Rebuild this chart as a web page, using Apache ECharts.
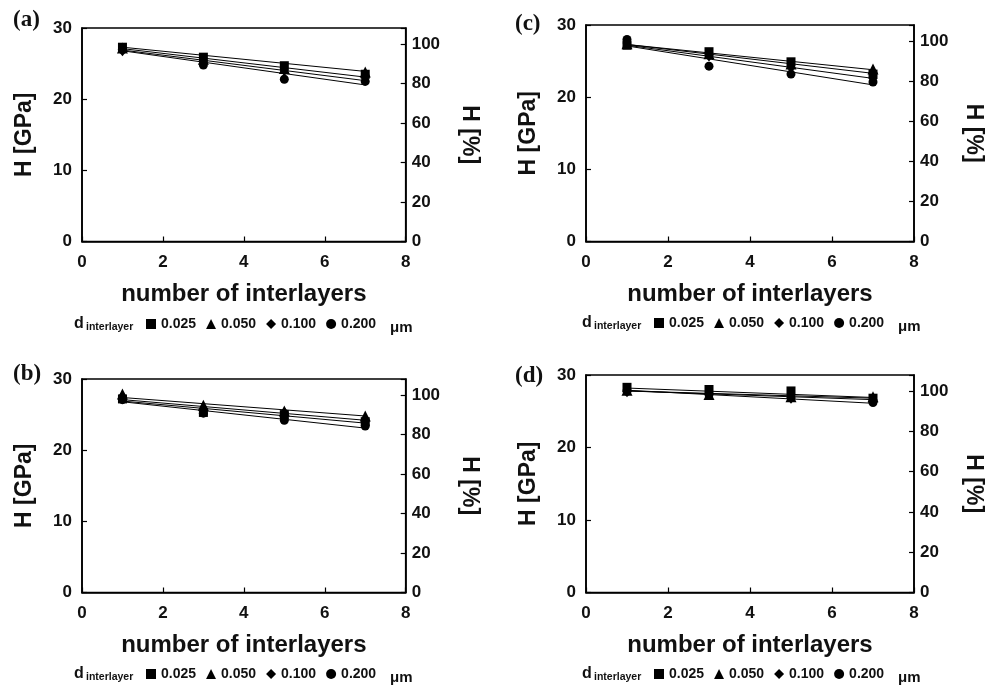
<!DOCTYPE html>
<html><head><meta charset="utf-8">
<script src="https://cdn.jsdelivr.net/npm/echarts@6/dist/echarts.min.js"></script>
<style>html,body{margin:0;padding:0;background:#fff}#c{width:987px;height:688px}</style>
</head><body><div id="c"></div>
<script>
// ---------- data ----------
const xValues = [1, 3, 5, 7];
const trendX = [1, 7];
const seriesNames = ['0.025', '0.050', '0.100', '0.200'];
const xTickLabels = [0, 2, 4, 6, 8];
const panelLabels = ['(a)', '(b)', '(c)', '(d)'];

// panel (a)
const a_025 = [27.3, 25.9, 24.7, 23.5];
const a_050 = [27.2, 25.6, 24.3, 23.8];
const a_100 = [26.8, 25.3, 24.0, 23.1];
const a_200 = [27.0, 24.8, 22.8, 22.5];
const aFit_025 = [27.1, 23.1];
const aFit_050 = [27.3, 23.9];
const aFit_100 = [26.9, 22.6];
const aFit_200 = [26.8, 22.0];
// panel (b)
const b_025 = [27.2, 25.3, 25.0, 24.0];
const b_050 = [27.9, 26.3, 25.5, 24.8];
const b_100 = [27.5, 25.6, 25.3, 24.0];
const b_200 = [27.1, 25.2, 24.2, 23.4];
const bFit_025 = [27.1, 24.2];
const bFit_050 = [27.4, 24.8];
const bFit_100 = [26.9, 23.8];
const bFit_200 = [26.8, 23.1];
// panel (c)
const c_025 = [27.2, 26.3, 24.9, 23.2];
const c_050 = [27.4, 26.0, 24.6, 23.9];
const c_100 = [27.5, 25.7, 24.1, 22.6];
const c_200 = [28.0, 24.3, 23.2, 22.1];
const cFit_025 = [27.3, 23.3];
const cFit_050 = [27.3, 23.8];
const cFit_100 = [27.2, 22.6];
const cFit_200 = [27.1, 21.7];
// panel (d)
const d_025 = [28.3, 28.0, 27.8, 26.8];
const d_050 = [27.9, 27.3, 27.0, 27.0];
const d_100 = [27.7, 27.3, 26.8, 26.6];
const d_200 = [27.8, 27.3, 26.9, 26.2];
const dFit_025 = [28.2, 26.9];
const dFit_050 = [27.8, 26.8];
const dFit_100 = [27.8, 26.6];
const dFit_200 = [27.9, 26.1];

// ---------- layout / style ----------
const FONT = '"Liberation Sans", Arial, Helvetica, sans-serif';
const SERIF = '"Liberation Serif", "Times New Roman", serif';
const INK = '#111';
const symbols = ['rect', 'triangle', 'diamond', 'circle'];
const symbolSizes = [9, [11, 11], [9, 11], 9];

const panels = [
  {label: 0, l: 82, t: 28, r: 405.7, b: 241.5, rGap: 52, vals: [a_025, a_050, a_100, a_200], fits: [aFit_025, aFit_050, aFit_100, aFit_200], lx: 13, ly: 21, legY: 325},
  {label: 1, l: 82, t: 379, r: 405.7, b: 592.5, rGap: 52, vals: [b_025, b_050, b_100, b_200], fits: [bFit_025, bFit_050, bFit_100, bFit_200], lx: 13, ly: 375, legY: 675},
  {label: 2, l: 586, t: 25, r: 914, b: 241.5, rGap: 48, vals: [c_025, c_050, c_100, c_200], fits: [cFit_025, cFit_050, cFit_100, cFit_200], lx: 515, ly: 25, legY: 324},
  {label: 3, l: 586, t: 375, r: 914, b: 592.5, rGap: 48, vals: [d_025, d_050, d_100, d_200], fits: [dFit_025, dFit_050, dFit_100, dFit_200], lx: 515, ly: 377, legY: 675}
];

const grid = [], xAxis = [], yAxis = [], series = [], legend = [], graphic = [];
const axisLineStyle = {color: '#000', width: 1.6};
const tickStyle = {show: true, inside: true, length: 5, lineStyle: {color: '#000', width: 1.2}};
const labelStyle = {color: INK, fontSize: 17, fontWeight: 'bold', fontFamily: FONT};

panels.forEach((p, i) => {
  grid.push({left: p.l, top: p.t, width: p.r - p.l, height: p.b - p.t, show: true,
    borderColor: '#000', borderWidth: 1.6, backgroundColor: 'transparent'});
  xAxis.push({gridIndex: i, type: 'value', min: xTickLabels[0], max: xTickLabels[xTickLabels.length - 1], interval: 2,
    axisLine: {show: true, lineStyle: axisLineStyle}, axisTick: tickStyle, splitLine: {show: false},
    axisLabel: Object.assign({margin: 12}, labelStyle),
    name: 'number of interlayers', nameLocation: 'middle', nameGap: 41,
    nameTextStyle: {color: INK, fontSize: 24, fontWeight: 'bold', fontFamily: FONT}});
  yAxis.push({gridIndex: i, type: 'value', position: 'left', min: 0, max: 30, interval: 10,
    axisLine: {show: true, lineStyle: axisLineStyle}, axisTick: tickStyle, splitLine: {show: false},
    axisLabel: Object.assign({margin: 10}, labelStyle),
    name: 'H [GPa]', nameLocation: 'middle', nameGap: 46, nameRotate: 90,
    nameTextStyle: {color: INK, fontSize: 23, fontWeight: 'bold', fontFamily: FONT}});
  yAxis.push({gridIndex: i, type: 'value', position: 'right', min: 0, max: 108, interval: 20,
    axisLine: {show: true, lineStyle: axisLineStyle}, axisTick: tickStyle, splitLine: {show: false},
    axisLabel: Object.assign({margin: 6, formatter: v => (v % 20 === 0 ? String(v) : '')}, labelStyle),
    name: 'H [%]', nameLocation: 'middle', nameGap: p.rGap, nameRotate: -90,
    nameTextStyle: {color: INK, fontSize: 23, fontWeight: 'bold', fontFamily: FONT}});

  p.fits.forEach((f, k) => {
    series.push({type: 'line', name: 'fit ' + seriesNames[k], xAxisIndex: i, yAxisIndex: 2 * i,
      data: trendX.map((x, j) => [x, f[j]]), symbol: 'none', silent: true, z: 2,
      lineStyle: {color: '#000', width: 1}});
  });
  p.vals.forEach((v, k) => {
    series.push({type: 'scatter', name: seriesNames[k], xAxisIndex: i, yAxisIndex: 2 * i,
      data: xValues.map((x, j) => [x, v[j]]), symbol: symbols[k], symbolSize: symbolSizes[k], z: 3,
      itemStyle: {color: '#000', opacity: 1}});
  });

  const dx = p.l - 82 + (p.l > 100 ? 4 : 0);
  legend.push({left: 146 + dx, top: p.legY - 8, orient: 'horizontal', padding: 0,
    itemWidth: 10, itemHeight: 10, itemGap: 10, selectedMode: false,
    itemStyle: {opacity: 1, color: '#000'},
    data: seriesNames.map((n, k) => ({name: n, icon: symbols[k]})),
    textStyle: {color: INK, fontSize: 14, fontWeight: 'bold', fontFamily: FONT}});

  graphic.push({type: 'text', left: p.lx, top: p.ly - 12,
    style: {text: panelLabels[p.label], fill: INK, font: 'bold 23px ' + SERIF}});
  graphic.push({type: 'text', left: 74 + dx, top: p.legY - 9,
    style: {text: 'd', fill: INK, font: 'bold 16px ' + FONT}});
  graphic.push({type: 'text', left: 86 + dx, top: p.legY - 3,
    style: {text: 'interlayer', fill: INK, font: 'bold 10.5px ' + FONT}});
  graphic.push({type: 'text', left: 390 + dx, top: p.legY - 5,
    style: {text: 'μm', fill: INK, font: 'bold 15px ' + FONT}});
});

const chart = echarts.init(document.getElementById('c'), null, {renderer: 'canvas'});
chart.setOption({animation: false, backgroundColor: '#fff', grid, xAxis, yAxis, series, legend, graphic});
</script>
</body></html>
